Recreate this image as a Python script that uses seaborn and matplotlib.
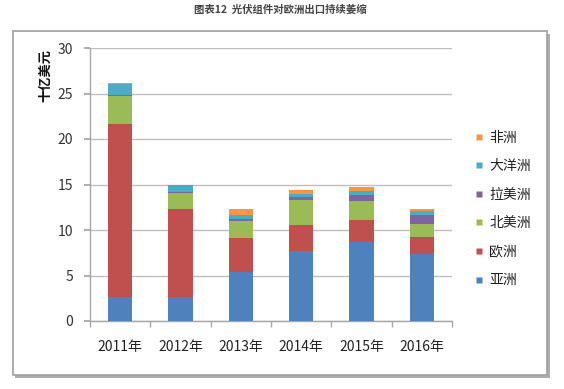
import matplotlib
matplotlib.use("Agg")
import matplotlib.pyplot as plt
import seaborn as sns
import pandas as pd
import numpy as np
from matplotlib.patches import Rectangle
from matplotlib.lines import Line2D

years = ["2011年", "2012年", "2013年", "2014年", "2015年", "2016年"]
asia = [2.6, 2.6, 5.4, 7.7, 8.65, 7.4]
europe = [19.0, 9.7, 3.7, 2.9, 2.5, 1.85]
north_america = [3.1, 1.8, 1.9, 2.7, 2.05, 1.45]
latin_america = [0.1, 0.1, 0.2, 0.35, 0.7, 0.9]
oceania = [1.2, 0.7, 0.4, 0.35, 0.4, 0.45]
africa = [0.1, 0.1, 0.7, 0.45, 0.45, 0.25]

series_names = ["亚洲", "欧洲", "北美洲", "拉美洲", "大洋洲", "非洲"]
series_vals = [asia, europe, north_america, latin_america, oceania, africa]
colors = ["#4F81BD", "#C0504D", "#9BBB59", "#8064A2", "#4BACC6", "#F79646"]

sns.set_theme(style="white")
plt.rcParams["font.family"] = ["Noto Sans CJK SC", "DejaVu Sans"]

fig = plt.figure(figsize=(5.64, 3.89), dpi=100)
fig.patch.set_facecolor("white")

# chart frame with shadow
fig.patches.append(Rectangle((15/564, 1-378/389), 535/564, 344/389, transform=fig.transFigure,
                             facecolor="#9a9a9a", edgecolor="none", zorder=-3, alpha=0.8))
fig.patches.append(Rectangle((13/564, 1-375/389), 534/564, 344/389, transform=fig.transFigure,
                             facecolor="white", edgecolor="#a0a0a0", lw=1.2, zorder=-2))

ax = fig.add_axes([90/564, 1-321/389, 362/564, 273/389])
ax.set_facecolor("none")

cum = np.cumsum(np.array(series_vals), axis=0)
df = pd.DataFrame({"year": years})
for i in range(len(series_names) - 1, -1, -1):
    df["v"] = cum[i]
    sns.barplot(data=df, x="year", y="v", color=colors[i], saturation=1, width=0.4,
                ax=ax, zorder=3 + (len(series_names) - i), edgecolor="none", linewidth=0)

ax.set_ylim(0, 30)
ax.set_xlim(-0.5, 5.5)
ax.set_yticks([0, 5, 10, 15, 20, 25, 30])
ax.yaxis.grid(True, color="#BFBFBF", lw=1)
ax.set_axisbelow(True)
for s in ["top", "right"]:
    ax.spines[s].set_visible(False)
for s in ["left", "bottom"]:
    ax.spines[s].set_color("#A6A6A6")
    ax.spines[s].set_linewidth(1)
ax.set_xlabel("")
ax.set_ylabel("")
ax.tick_params(axis="y", which="major", left=True, length=4, color="#A6A6A6",
               labelsize=10, labelcolor="#333333", pad=8)
ax.tick_params(axis="x", which="major", bottom=False, length=0, labelsize=10,
               labelcolor="#222222", pad=14)
ax.set_xticks(np.arange(-0.5, 6.0, 1.0), minor=True)
ax.tick_params(axis="x", which="minor", bottom=True, length=4, color="#A6A6A6", direction="out")

fig.text(45/564, 1-76/389, "十亿美元", rotation=90, ha="center", va="center",
         fontsize=9.5, fontweight="bold", color="#111111")

fig.text(280/564, 1-10/389, "图表12  光伏组件对欧洲出口持续萎缩", ha="center", va="center",
         fontsize=7.5, fontweight="bold", color="#444444")

handles = [Line2D([0], [0], marker="s", linestyle="none", markersize=5,
                  markerfacecolor=colors[i], markeredgecolor="none") for i in range(5, -1, -1)]
labels = [series_names[i] for i in range(5, -1, -1)]
fig.legend(handles, labels, loc="upper left", bbox_to_anchor=(462/564, 1-118/389),
           frameon=False, fontsize=10, labelspacing=1.05, handlelength=0.7,
           handletextpad=0.35, labelcolor="#222222")

fig.savefig("out.png", dpi=100)
